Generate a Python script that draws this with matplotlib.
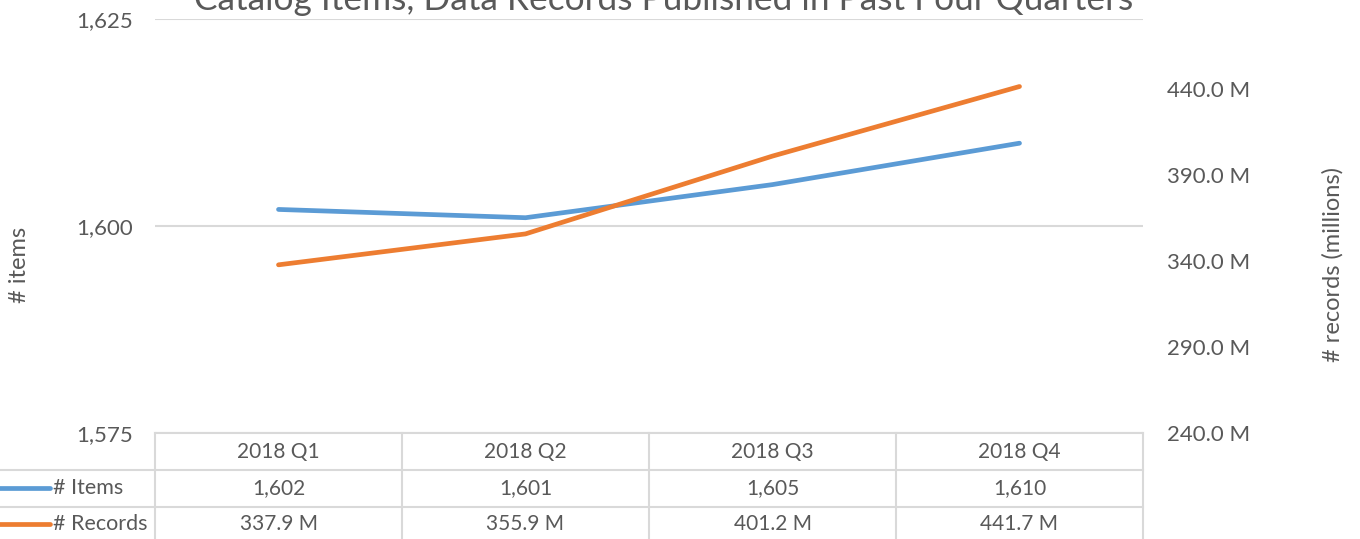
import matplotlib.pyplot as plt
from matplotlib.ticker import FixedLocator, FuncFormatter
from matplotlib.lines import Line2D

quarters = ["2018 Q1", "2018 Q2", "2018 Q3", "2018 Q4"]
items = [1602, 1601, 1605, 1610]
records = [337.9, 355.9, 401.2, 441.7]  # millions
items_ticks = [1575, 1600, 1625]
records_ticks = [240, 290, 340, 390, 440]

BLUE = "#5B9BD5"
ORANGE = "#ED7D31"
GRAY = "#595959"
GRID = "#D9D9D9"

plt.rcParams["font.family"] = ["Lato", "DejaVu Sans"]

fig = plt.figure(figsize=(13.6, 5.39), dpi=100)
ax = fig.add_axes([155 / 1360, 106 / 539, 988 / 1360, 414 / 539])
ax2 = ax.twinx()

x = list(range(len(quarters)))
ax.plot(x, items, color=BLUE, lw=3.4, solid_capstyle="round", zorder=3)
ax2.plot(x, records, color=ORANGE, lw=3.4, solid_capstyle="round", zorder=3)

ax.set_xlim(-0.5, 3.5)
ax.set_ylim(1575, 1625)
ax2.set_ylim(240, 481)
ax.set_xticks([])
ax.yaxis.set_major_locator(FixedLocator(items_ticks))
ax.yaxis.set_major_formatter(FuncFormatter(lambda v, p: f"{v:,.0f}"))
ax2.yaxis.set_major_locator(FixedLocator(records_ticks))
ax2.yaxis.set_major_formatter(FuncFormatter(lambda v, p: f"{v:.1f} M"))
for a in (ax, ax2):
    for s in a.spines.values():
        s.set_visible(False)
    a.tick_params(axis="y", length=0, labelsize=16, labelcolor=GRAY)
ax.tick_params(axis="y", pad=16)
ax2.tick_params(axis="y", pad=17)
ax.grid(axis="y", color=GRID, lw=1.5)
ax.set_axisbelow(True)

ax.set_ylabel("# items", fontsize=17, color=GRAY, va="center", ha="center")
ax.yaxis.set_label_coords((20 - 155) / 988, 0.406)
ax2.set_ylabel("# records (millions)", fontsize=17, color=GRAY, va="center", ha="center")
ax2.yaxis.set_label_coords((1333 - 155) / 988, 0.406)

# title (partly above the canvas, as in the source image)
fig.text(0.488, 529 / 539, "Catalog Items, Data Records Published in Past Four Quarters",
         ha="center", va="baseline", fontsize=25.4, color=GRAY)

# data table under the plot
tr = ax.get_xaxis_transform()
row_y = [-0.046, -0.133, -0.220]
line_y = [0.0, -0.0894, -0.1787]
left_edge = -0.5 - 155 / 247
for yy in line_y[1:]:
    ax.add_line(Line2D([left_edge, 3.5], [yy, yy], transform=tr, color=GRID,
                       lw=1.5, clip_on=False))
for xx in [-0.5, 0.5, 1.5, 2.5, 3.5]:
    ax.add_line(Line2D([xx, xx], [0, -0.35], transform=tr, color=GRID,
                       lw=1.5, clip_on=False))
ax.add_line(Line2D([-0.5, 3.5], [0, 0], transform=tr, color=GRID, lw=1.5, clip_on=False))

rows = [
    [q for q in quarters],
    [f"{v:,}" for v in items],
    [f"{v:.1f} M" for v in records],
]
for r, cells in enumerate(rows):
    for i, txt in enumerate(cells):
        ax.text(i, row_y[r], txt, transform=tr, ha="center", va="center",
                fontsize=15, color=GRAY, clip_on=False)

for r, (name, col) in enumerate([("# Items", BLUE), ("# Records", ORANGE)], start=1):
    ax.add_line(Line2D([left_edge - 0.05, left_edge + 50 / 247], [row_y[r], row_y[r]],
                       transform=tr, color=col, lw=3.4, solid_capstyle="round",
                       clip_on=False))
    ax.text(left_edge + 53 / 247, row_y[r], name, transform=tr, ha="left",
            va="center", fontsize=15.5, color=GRAY, clip_on=False)

fig.savefig("out.png", dpi=100)
